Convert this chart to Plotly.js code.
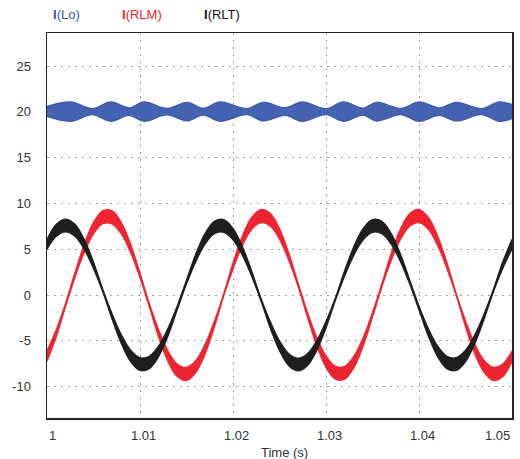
<!DOCTYPE html>
<html>
<head>
<meta charset="utf-8">
<script src="https://cdn.plot.ly/plotly-3.0.1.min.js"></script>
<style>html,body{margin:0;padding:0;background:#fff;}#chart{width:520px;height:459px;}</style>
</head>
<body>
<div id="chart"></div>
<script>
// Sample times (s)
const timeS = [1.000,1.001,1.002,1.003,1.004,1.005,1.006,1.007,1.008,1.009,1.010,1.011,1.012,1.013,1.014,1.015,1.016,1.017,1.018,1.019,1.020,1.021,1.022,1.023,1.024,1.025,1.026,1.027,1.028,1.029,1.030,1.031,1.032,1.033,1.034,1.035,1.036,1.037,1.038,1.039,1.040,1.041,1.042,1.043,1.044,1.045,1.046,1.047,1.048,1.049,1.050];

// I(RLM) ripple band: upper / lower envelope (A)
const rlmHi = [-6.07,-3.75,-0.88,2.43,5.56,7.93,9.20,9.19,7.92,5.54,2.41,-0.90,-3.76,-6.08,-7.53,-7.90,-7.15,-5.38,-2.83,0.13,3.50,6.43,8.47,9.34,8.92,7.25,4.59,1.31,-1.86,-4.59,-6.65,-7.77,-7.78,-6.68,-4.63,-1.90,1.23,4.53,7.21,8.89,9.34,8.50,6.48,3.56,0.17,-2.80,-5.35,-7.13,-7.90,-7.54,-6.11];
const rlmLo = [-7.23,-4.57,-1.26,1.89,4.62,6.67,7.78,7.77,6.66,4.60,1.87,-1.30,-4.58,-7.24,-8.91,-9.34,-8.47,-6.44,-3.51,-0.11,2.82,5.37,7.15,7.90,7.54,6.09,3.77,0.91,-2.40,-5.53,-7.91,-9.19,-9.20,-7.94,-5.57,-2.44,0.85,3.71,6.05,7.51,7.90,7.18,5.42,2.88,-0.07,-3.48,-6.41,-8.45,-9.34,-8.92,-7.27];

// I(RLT) ripple band: upper / lower envelope (A)
const rltHi = [6.08,7.73,8.30,7.73,6.08,3.61,0.64,-2.05,-4.35,-6.03,-6.84,-6.68,-5.56,-3.64,-1.19,1.65,4.50,6.74,8.04,8.24,7.29,5.33,2.65,-0.32,-2.87,-5.00,-6.41,-6.90,-6.41,-5.00,-2.87,-0.32,2.65,5.33,7.29,8.24,8.04,6.74,4.50,1.65,-1.19,-3.64,-5.56,-6.68,-6.84,-6.03,-4.35,-2.05,0.64,3.61,6.08];
const rltLo = [5.00,6.41,6.90,6.41,5.00,2.87,0.32,-2.65,-5.33,-7.29,-8.24,-8.04,-6.74,-4.50,-1.65,1.19,3.64,5.56,6.68,6.84,6.03,4.35,2.05,-0.64,-3.61,-6.08,-7.73,-8.30,-7.73,-6.08,-3.61,-0.64,2.05,4.35,6.03,6.84,6.68,5.56,3.64,1.19,-1.65,-4.50,-6.74,-8.04,-8.24,-7.29,-5.33,-2.65,0.32,2.87,5.00];

// I(Lo) ripple band envelope (bulges and necks)
const loTime = [1.0000,1.00255,1.00487,1.00685,1.00882,1.01044,1.01291,1.01506,1.01679,1.01861,1.02152,1.02324,1.02561,1.02744,1.03002,1.03185,1.0340,1.0354,1.03809,1.04003,1.04218,1.04401,1.0467,1.04863,1.0500];
const loHi = [20.60,21.08,20.36,21.08,20.45,21.08,20.38,21.05,20.40,21.08,20.36,21.05,20.45,21.08,20.36,21.08,20.40,21.05,20.38,21.08,20.45,21.05,20.36,21.08,20.80];
const loLo = [19.50,18.97,19.70,18.97,19.60,18.97,19.68,19.00,19.65,18.97,19.70,19.00,19.60,18.97,19.70,18.97,19.65,19.00,19.68,18.97,19.60,19.00,19.70,18.97,19.25];

const seriesNames = ['I(Lo)','I(RLM)','I(RLT)'];
const xTickVals = [1,1.01,1.02,1.03,1.04,1.05];
const xTickText = ['1','1.01','1.02','1.03','1.04','1.05'];
const yTickVals = [25,20,15,10,5,0,-5,-10];
const yTickText = ['25','20','15','10','5','0','-5','-10'];

const BLUE = '#4463b3', BLUE_L = '#3a58a8';
const RED = '#ee2530', BLACK = '#1e1e1e';
const FONT = 'Liberation Sans, Arial, sans-serif';

function band(x, lo, hi, col, fillcol, shape) {
  return [
    {x: x, y: lo, type: 'scatter', mode: 'lines', line: {color: col, width: 1.2, shape: shape}, showlegend: false, hoverinfo: 'skip'},
    {x: x, y: hi, type: 'scatter', mode: 'lines', fill: 'tonexty', fillcolor: fillcol, line: {color: col, width: 1.2, shape: shape}, showlegend: false, hoverinfo: 'skip'}
  ];
}

const data = [].concat(
  band(loTime, loLo, loHi, BLUE_L, BLUE, 'spline'),
  band(timeS, rlmLo, rlmHi, RED, RED, 'spline'),
  band(timeS, rltLo, rltHi, BLACK, BLACK, 'spline')
);

const L = 47, R = 8, T = 33, B = 41, W = 520, H = 459;
const pw = W - L - R, ph = H - T - B;
function px2paper(px) { return (px - L) / pw; }

const legendCols = [BLUE_L, RED, '#111'];
const legendX = [51, 120, 202];
const annotations = seriesNames.map((n, i) => ({
  xref: 'paper', yref: 'paper', x: px2paper(legendX[i]), y: 1 + (T - 14) / ph,
  xanchor: 'left', yanchor: 'middle', showarrow: false,
  text: '<b>' + n.charAt(0) + '</b>' + n.slice(1),
  font: {family: FONT, size: 13, color: legendCols[i]}
}));
annotations.push({
  xref: 'paper', yref: 'paper', x: px2paper(284), y: -(452 - (H - B)) / ph,
  xanchor: 'center', yanchor: 'middle', showarrow: false, text: 'Time (s)',
  font: {family: FONT, size: 13, color: '#333'}
});
xTickVals.forEach((v, i) => {
  const last = i === xTickVals.length - 1, first = i === 0;
  annotations.push({
    xref: 'x', yref: 'paper', x: v, y: 0, yshift: -17,
    xanchor: first ? 'left' : (last ? 'right' : 'center'),
    xshift: first ? 0 : (last ? 0 : 3.5),
    yanchor: 'middle', showarrow: false, text: xTickText[i],
    font: {family: FONT, size: 13, color: '#333'}
  });
});

const layout = {
  width: W, height: H,
  margin: {l: L, r: R, t: T, b: B, pad: 0},
  paper_bgcolor: '#fff', plot_bgcolor: '#fff',
  showlegend: false,
  font: {family: FONT, size: 13, color: '#333'},
  xaxis: {
    range: [1, 1.05], tickvals: xTickVals, showticklabels: false,
    showgrid: true, gridcolor: '#a0a0a0', griddash: '2px,5px', gridwidth: 1,
    zeroline: false, showline: true, linecolor: '#222', linewidth: 1.5, mirror: true,
    ticks: ''
  },
  yaxis: {
    range: [-13.43, 28.61], tickvals: yTickVals, ticktext: yTickText,
    showgrid: true, gridcolor: '#a0a0a0', griddash: '2px,5px', gridwidth: 1,
    zeroline: false, showline: true, linecolor: '#222', linewidth: 1.5, mirror: true,
    ticks: '', ticklabelstandoff: 12, tickfont: {size: 13, color: '#333'}
  },
  annotations: annotations
};

Plotly.newPlot('chart', data, layout, {staticPlot: true, displayModeBar: false});
</script>
</body>
</html>
